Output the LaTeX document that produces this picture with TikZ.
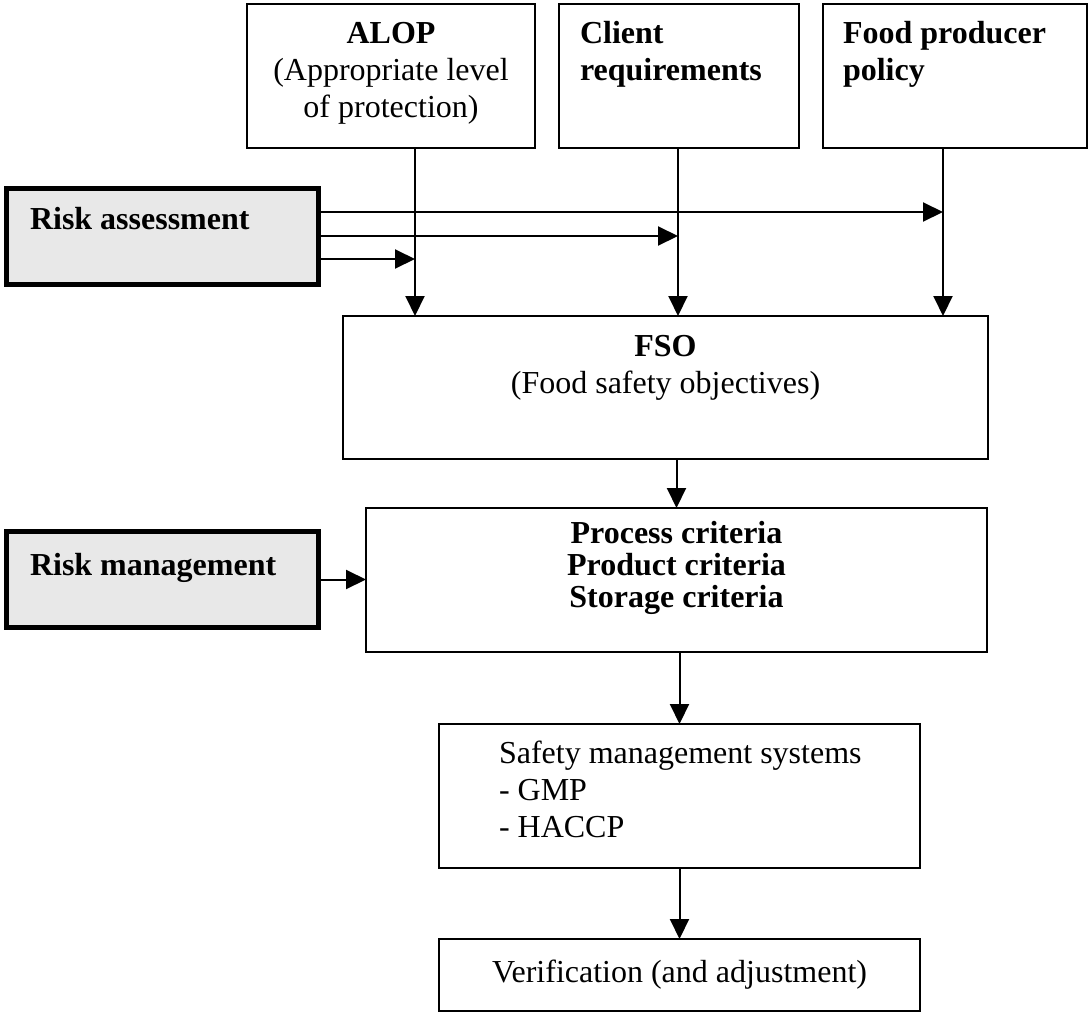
\documentclass[tikz,border=0pt]{standalone}
\usepackage{fontspec}
\setmainfont{Liberation Serif}
\usetikzlibrary{arrows.meta}
\definecolor{boxgray}{RGB}{232,232,232}
\tikzset{
  box/.style={draw, line width=2pt, inner sep=0pt, outer sep=0pt},
  thickbox/.style={draw, line width=5pt, fill=boxgray, inner sep=0pt, outer sep=0pt},
  txt/.style={inner sep=0pt, outer sep=0pt, font=\fontsize{32}{37}\selectfont},
  btxt/.style={txt, font=\fontsize{32}{37}\selectfont\bfseries},
  arr/.style={line width=2pt, -{Triangle[length=20pt,width=19pt]}},
  ln/.style={line width=2pt}
}
\begin{document}
\begin{tikzpicture}[x=1pt,y=-1pt]
\useasboundingbox (0,0) rectangle (1089,1012);
% boxes
\node[box, minimum width=288pt, minimum height=144pt] (alop) at (391,76) {};
\node[box, minimum width=240pt, minimum height=144pt] (client) at (679,76) {};
\node[box, minimum width=264pt, minimum height=144pt] (food) at (955,76) {};
\node[thickbox, minimum width=312pt, minimum height=96pt] (ra) at (162.5,236.5) {};
\node[box, minimum width=645pt, minimum height=143pt] (fso) at (665.5,387.5) {};
\node[box, minimum width=621pt, minimum height=144pt] (proc) at (676.5,580) {};
\node[thickbox, minimum width=312pt, minimum height=96pt] (rm) at (162.5,579.5) {};
\node[box, minimum width=481pt, minimum height=144pt] (sms) at (679.5,796) {};
\node[box, minimum width=481pt, minimum height=72pt] (ver) at (679.5,975) {};
% texts
\node[btxt, anchor=base] (alopA) at (391,43) {ALOP};
\node[txt, anchor=base] (alopB) at (391,80) {(Appropriate level};
\node[txt, anchor=base] (alopC) at (391,117) {of protection)};
\node[btxt, anchor=base west] (clientA) at (580,43) {Client};
\node[btxt, anchor=base west] (clientB) at (580,80) {requirements};
\node[btxt, anchor=base west] (foodA) at (843,43) {Food producer};
\node[btxt, anchor=base west] (foodB) at (843,80) {policy};
\node[btxt, anchor=base west] (raT) at (30,229) {Risk assessment};
\node[btxt, anchor=base] (fsoA) at (665.5,356) {FSO};
\node[txt, anchor=base] (fsoB) at (665.5,393) {(Food safety objectives)};
\node[btxt, anchor=base] (procA) at (676.5,543) {Process criteria};
\node[btxt, anchor=base] (procB) at (676.5,575) {Product criteria};
\node[btxt, anchor=base] (procC) at (676.5,607) {Storage criteria};
\node[btxt, anchor=base west] (rmT) at (30,575) {Risk management};
\node[txt, anchor=base west] (smsA) at (499,763) {Safety management systems};
\node[txt, anchor=base west] (smsB) at (499,800) {- GMP};
\node[txt, anchor=base west] (smsC) at (499,837) {- HACCP};
\node[txt, anchor=base] (verT) at (679.5,982) {Verification (and adjustment)};
% helper coordinates
\coordinate (xa) at (415,0);
\coordinate (xc) at (678,0);
\coordinate (xf) at (943,0);
\coordinate (y1) at (0,212);
\coordinate (y2) at (0,236);
\coordinate (y3) at (0,259);
% vertical arrows into FSO
\draw[arr] (alop.south -| xa) -- (fso.north -| xa);
\draw[arr] (client.south -| xc) -- (fso.north -| xc);
\draw[arr] (food.south -| xf) -- (fso.north -| xf);
% risk assessment arrows
\draw[arr] (ra.east |- y1) -- (xf |- y1);
\draw[arr] (ra.east |- y2) -- (xc |- y2);
\draw[arr] (ra.east |- y3) -- (xa |- y3);
% chain
\draw[arr] (fso.south -| proc.north) -- (proc.north);
\draw[arr] (rm.east) -- (proc.west |- rm.east);
\draw[arr] (proc.south -| sms.north) -- (sms.north);
\draw[arr] (sms.south) -- (ver.north);
\end{tikzpicture}
\end{document}
